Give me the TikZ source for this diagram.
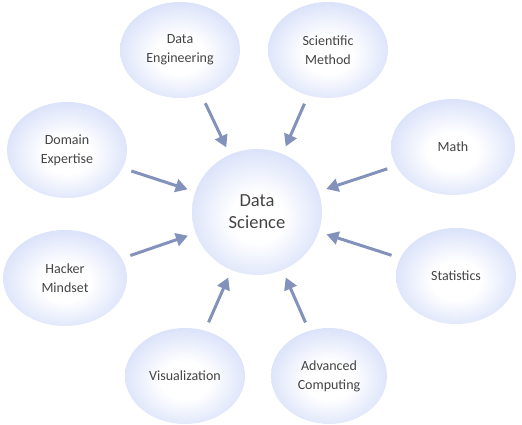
\documentclass[tikz,border=0pt]{standalone}
\usepackage{fontspec}
\setmainfont{Carlito}
\usetikzlibrary{shapes.geometric,arrows.meta}

\definecolor{bubedge}{HTML}{A9BBEE}
\definecolor{bubouter}{HTML}{BCCBF3}
\definecolor{bubmid}{HTML}{DAE2FA}
\definecolor{arrowblue}{HTML}{8292BA}
\definecolor{labelgray}{HTML}{444444}

% soft white-to-periwinkle fill that reaches the outer colour at the rim
\pgfdeclareradialshading{bubble}{\pgfpoint{0bp}{-3bp}}{%
  color(0bp)=(white); color(10bp)=(white); color(27bp)=(bubmid);
  color(41bp)=(bubouter); color(49bp)=(bubedge); color(50bp)=(bubedge)}

\tikzset{
  bubble/.style={ellipse, shading=bubble, inner sep=0pt,
    minimum width=120pt, minimum height=96pt, align=center,
    text=labelgray, font=\fontsize{14}{19}\selectfont},
  hub/.style={bubble, minimum width=130pt, minimum height=126pt,
    font=\fontsize{18.5}{22}\selectfont},
  feed/.style={draw=arrowblue, line width=3pt,
    -{Triangle[length=12pt,width=13pt]},
    shorten <=9pt, shorten >=8pt}
}

\begin{document}
\begin{tikzpicture}[x=1pt,y=-1pt]
  \useasboundingbox (0,0) rectangle (522,425);

  \node[hub] (ds) at (257,212) {Data\\Science};

  \node[bubble] (de)   at (180,50)  {Data\\Engineering};
  \node[bubble] (sm)   at (328,50)  {Scientific\\Method};
  \node[bubble, minimum width=124pt] (math) at (453,147) {Math};
  \node[bubble] (stat) at (456,276) {Statistics};
  \node[bubble, minimum width=116pt] (ac)   at (329,376) {Advanced\\Computing};
  \node[bubble] (vis)  at (185,376) {Visualization};
  \node[bubble, minimum width=124pt] (hm)   at (65,278)  {Hacker\\Mindset};
  \node[bubble] (dom)  at (67,150)  {Domain\\Expertise};

  \foreach \src in {de,sm,math,stat,ac,vis,hm,dom}
    \draw[feed] (\src) -- (ds);
\end{tikzpicture}
\end{document}
